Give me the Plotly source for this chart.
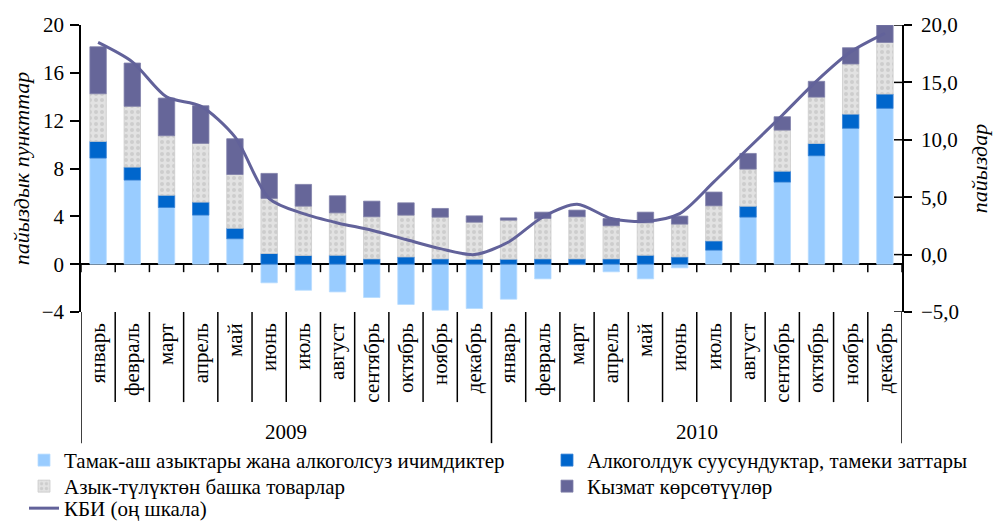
import plotly.graph_objects as go

years = ["2009", "2010"]
months = ["январь", "февраль", "март", "апрель", "май", "июнь", "июль", "август",
          "сентябрь", "октябрь", "ноябрь", "декабрь"] * 2

food = [8.87, 7.03, 4.74, 4.10, 2.12, -1.56, -2.18, -2.32, -2.79, -3.37, -3.85, -3.71,
        -2.93, -1.23, -0.05, -0.64, -1.23, -0.31, 1.17, 3.93, 6.86, 9.06, 11.36, 13.03]
alcohol = [1.40, 1.09, 1.03, 1.09, 0.89, 0.89, 0.73, 0.75, 0.45, 0.61, 0.45, 0.42,
           0.42, 0.45, 0.45, 0.45, 0.75, 0.61, 0.78, 0.92, 0.92, 1.04, 1.19, 1.20]
nonfood = [3.98, 5.08, 4.97, 4.91, 4.49, 4.61, 4.12, 3.54, 3.51, 3.49, 3.48, 3.09,
           3.26, 3.37, 3.51, 2.76, 2.71, 2.74, 2.93, 3.10, 3.43, 3.87, 4.19, 4.31]
services = [3.93, 3.62, 3.15, 3.15, 2.99, 2.09, 1.82, 1.43, 1.31, 1.03, 0.73, 0.53,
            0.19, 0.53, 0.56, 0.61, 0.89, 0.67, 1.15, 1.31, 1.12, 1.32, 1.36, 1.46]
cpi = [18.48, 16.79, 13.74, 12.93, 10.25, 4.88, 3.57, 2.76, 2.12, 1.31, 0.52, 0.0,
       1.10, 3.28, 4.39, 3.14, 2.90, 3.57, 6.33, 9.24, 12.14, 15.11, 17.66, 19.27]
right_ticks = [-5, 0, 5, 10, 15, 20]

names = ["Тамак-аш азыктары жана алкоголсуз ичимдиктер",
         "Алкоголдук суусундуктар, тамеки заттары",
         "Азык-түлүктөн башка товарлар",
         "Кызмат көрсөтүүлөр",
         "КБИ (оң шкала)"]

FONT = "Liberation Serif, Times New Roman, serif"
FS = 21
n = len(months)
idx = list(range(n))
plot_h = 522 - 25 - 210.3
plot_w = 995 - 81 - 93


def py(px):  # pixels below plot bottom -> paper y
    return -px / plot_h


def pxx(px):  # page x pixel -> paper x
    return (px - 81) / plot_w


fig = go.Figure()
fig.add_trace(go.Bar(x=idx, y=food, name=names[0], legend="legend",
                     marker=dict(color="#99ccff", line=dict(color="#b8dcff", width=0.8))))
fig.add_trace(go.Bar(x=idx, y=alcohol, name=names[1], legend="legend2",
                     marker=dict(color="#0066cc", line=dict(color="#3380d6", width=0.8))))
fig.add_trace(go.Bar(x=idx, y=nonfood, name=names[2], legend="legend3",
                     marker=dict(color="#d8d8d8", line=dict(color="#cccccc", width=0.8),
                                 pattern=dict(shape=".", fgcolor="#b8b8b8", bgcolor="#e2e2e2",
                                              size=6, solidity=0.35))))
fig.add_trace(go.Bar(x=idx, y=services, name=names[3], legend="legend4",
                     marker=dict(color="#666699", line=dict(color="#8080aa", width=0.8))))
fig.add_trace(go.Scatter(x=idx, y=cpi, name=names[4], yaxis="y2", mode="lines",
                         legend="legend5",
                         line=dict(color="#62629a", width=3, shape="spline", smoothing=0.8)))

shapes = []
for i in range(n + 1):
    xb = i - 0.5
    shapes.append(dict(type="line", xref="x", yref="y", x0=xb, x1=xb,
                       ysizemode="pixel", yanchor=0, y0=-8, y1=0,
                       line=dict(color="black", width=1.5)))
    long_sep = (i % 12 == 0)
    shapes.append(dict(type="line", xref="x", yref="paper", x0=xb, x1=xb,
                       y0=0, y1=py(131) if long_sep else py(90),
                       line=dict(color="black", width=1.5)))
# inner half of the crossing ticks on the right axis
for v in right_ticks:
    shapes.append(dict(type="line", xref="paper", yref="y2", xsizemode="pixel", xanchor=1,
                       x0=-8, x1=0, y0=v, y1=v, line=dict(color="black", width=1.5)))

annotations = []
for k, yr in enumerate(years):
    annotations.append(dict(text=yr, x=k * 12 + 5.5, y=py(120), xref="x", yref="paper",
                            showarrow=False, xanchor="center", yanchor="middle",
                            font=dict(family=FONT, size=FS)))

leg_common = dict(orientation="v", xanchor="left", yanchor="middle", traceorder="normal",
                  font=dict(family=FONT, size=FS), itemwidth=30,
                  bgcolor="rgba(0,0,0,0)", borderwidth=0)
col1, col2 = pxx(24), pxx(547)
rows = [py(460 - 311.7), py(486 - 311.7), py(508 - 311.7)]

fig.update_layout(
    width=995, height=522,
    margin=dict(l=81, r=93, t=25, b=210, autoexpand=False),
    paper_bgcolor="white", plot_bgcolor="white",
    font=dict(family=FONT, size=FS, color="black"),
    barmode="relative", bargap=0.52,
    separators=", ",
    showlegend=True,
    legend=dict(x=col1, y=rows[0], **leg_common),
    legend2=dict(x=col2, y=rows[0], **leg_common),
    legend3=dict(x=col1, y=rows[1], **leg_common),
    legend4=dict(x=col2, y=rows[1], **leg_common),
    legend5=dict(x=col1, y=rows[2], **leg_common),
    xaxis=dict(range=[-0.5, n - 0.5], showgrid=False, showline=False, zeroline=False,
               tickvals=idx, ticktext=months, tickangle=-90, ticks="",
               ticklabelstandoff=6, tickfont=dict(family=FONT, size=FS)),
    yaxis=dict(range=[-4, 20], dtick=4, tick0=0, showgrid=False, showline=True,
               linecolor="black", linewidth=1.5, ticks="outside", ticklen=9,
               tickwidth=1.5, tickcolor="black", zeroline=True, zerolinecolor="black",
               zerolinewidth=2, tickfont=dict(family=FONT, size=FS), ticklabelstandoff=2,
               title=dict(text="<i>пайыздык пункттар</i>", standoff=6,
                          font=dict(family=FONT, size=22))),
    yaxis2=dict(range=[-5, 20], tickvals=right_ticks, overlaying="y", side="right",
                showgrid=False, showline=True, linecolor="black", linewidth=1.5,
                ticks="outside", ticklen=8, tickwidth=1.5, tickcolor="black",
                zeroline=False, tickformat=".1f", tickfont=dict(family=FONT, size=FS),
                ticklabelstandoff=5,
                title=dict(text="<i>пайыздар</i>", standoff=14,
                           font=dict(family=FONT, size=22))),
    shapes=shapes,
    annotations=annotations,
)

fig.write_html("out.html", config={"displayModeBar": False},
               post_script="document.body.style.margin='0';document.body.style.overflow='hidden';")
